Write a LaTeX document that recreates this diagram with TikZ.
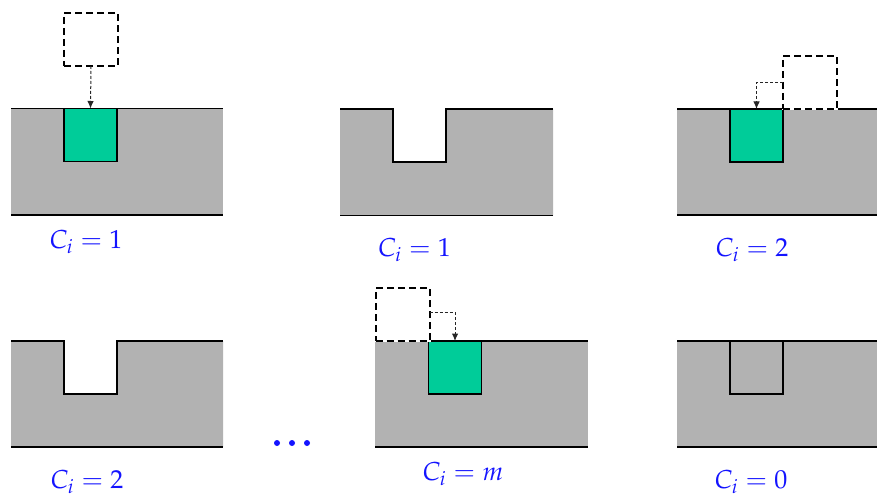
\documentclass[tikz,border=0pt]{standalone}
\usepackage{mathpazo}
\usetikzlibrary{arrows.meta}
\definecolor{slab}{RGB}{178,178,178}
\definecolor{fillgreen}{RGB}{0,204,153}
\definecolor{labelblue}{RGB}{20,20,255}

\begin{document}
\begin{tikzpicture}[x=1pt,y=-1pt,
  outline/.style={line width=1.3pt, black},
  cell/.style={draw, line width=1.3pt, minimum width=53pt, minimum height=53pt,
    inner sep=0pt, outer sep=0pt, anchor=north west},
  filled/.style={cell, fill=fillgreen},
  ghost/.style={cell, minimum width=54pt, line width=2pt,
    dash pattern=on 7pt off 4pt, preaction={draw=white, solid}},
  move/.style={draw=black!85, line width=1pt, dash pattern=on 3pt off 2pt,
    -{Latex[length=7.5pt,width=6.5pt]}},
  lbl/.style={text=labelblue, font=\fontsize{26}{30}\selectfont, anchor=base}
]
\useasboundingbox (0,0) rectangle (877,497);

% ---- top row -------------------------------------------------------
% slab 1: filled cell with incoming piece from above
\fill[slab] (11,108.5) rectangle (223,215);
\draw[outline] (11,108.5) -- (223,108.5);
\draw[outline] (11,215) -- (223,215);
\node[filled] (g1) at (64,108.5) {};
\node[ghost]  (d1) at (64,13) {};
\draw[move] (d1.south) -- (g1.north);
\node[lbl] (l1) at (86,248) {$C_i = 1$};

% slab 2: empty notch
\fill[slab] (340,109) -- (393,109) -- (393,162) -- (446,162) -- (446,109)
  -- (553,109) -- (553,215.5) -- (340,215.5) -- cycle;
\draw[outline] (340,109) -- (393,109) -- (393,162) -- (446,162) -- (446,109) -- (553,109);
\draw[outline] (340,215.5) -- (553,215.5);
\node[lbl] (l2) at (414.5,256.5) {$C_i = 1$};

% slab 3: piece moved in from the right
\fill[slab] (677,109) rectangle (877,215);
\draw[outline] (677,109) -- (877,109);
\draw[outline] (677,215) -- (877,215);
\node[filled] (g3) at (730,109) {};
\node[ghost]  (d3) at (783,56) {};
\draw[move] (d3.west) -| (g3.north);
\node[lbl] (l3) at (752,256) {$C_i = 2$};

% ---- bottom row ----------------------------------------------------
% slab 4: empty notch
\fill[slab] (11,341) -- (64,341) -- (64,394) -- (117,394) -- (117,341)
  -- (223,341) -- (223,447) -- (11,447) -- cycle;
\draw[outline] (11,341) -- (64,341) -- (64,394) -- (117,394) -- (117,341) -- (223,341);
\draw[outline] (11,447) -- (223,447);
\node[lbl] (l4) at (87,488) {$C_i = 2$};

% ellipsis
\foreach \x in {277,292,307} \fill[labelblue] (\x,443) circle (3pt);

% slab 5: piece moved in from the left
\fill[slab] (375,341) rectangle (588,447);
\draw[outline] (375,341) -- (588,341);
\draw[outline] (375,447) -- (588,447);
\node[filled] (g5) at (428.5,341) {};
\node[ghost]  (d5) at (375.5,288) {};
\draw[move] ([yshift=2pt]d5.east) -| (g5.north);
\node[lbl] (l5) at (463,480) {$C_i = m$};

% slab 6: cell already level with the surface
\fill[slab] (677,341) rectangle (877,447);
\draw[outline] (677,341) -- (877,341);
\draw[outline] (677,447) -- (877,447);
\node[cell] (g6) at (730,341) {};
\node[lbl] (l6) at (751,488) {$C_i = 0$};
\end{tikzpicture}
\end{document}
